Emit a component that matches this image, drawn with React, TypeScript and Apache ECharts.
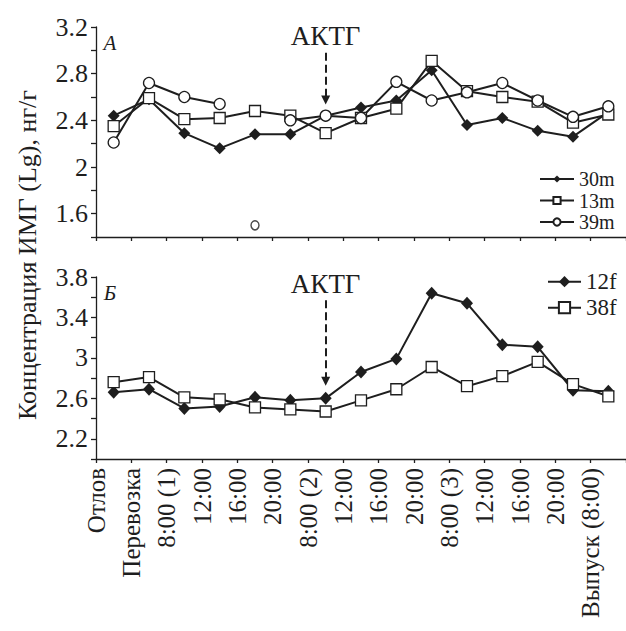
import React, { useEffect, useRef } from 'react';
import * as echarts from 'echarts';

const timeLabels = ['Отлов', 'Перевозка', '8:00 (1)', '12:00', '16:00', '20:00', '8:00 (2)', '12:00', '16:00', '20:00', '8:00 (3)', '12:00', '16:00', '20:00', 'Выпуск (8:00)'];

const series30m = [2.44, 2.58, 2.29, 2.16, 2.28, 2.28, 2.44, 2.51, 2.57, 2.83, 2.36, 2.42, 2.31, 2.26, 2.47];
const series13m = [2.35, 2.59, 2.41, 2.42, 2.48, 2.44, 2.29, 2.42, 2.50, 2.91, 2.65, 2.60, 2.56, 2.38, 2.45];
const series39m = [2.21, 2.72, 2.60, 2.54, null, 2.40, 2.44, 2.42, 2.73, 2.57, 2.64, 2.72, 2.57, 2.43, 2.52];
const outlier39m = [null, null, null, null, 1.5, null, null, null, null, null, null, null, null, null, null];

const series12f = [2.66, 2.69, 2.50, 2.52, 2.61, 2.58, 2.60, 2.86, 2.99, 3.64, 3.54, 3.13, 3.11, 2.68, 2.67];
const series38f = [2.76, 2.81, 2.61, 2.59, 2.51, 2.49, 2.47, 2.58, 2.69, 2.91, 2.72, 2.82, 2.96, 2.74, 2.62];

const topYTicks = ['1.6', '2', '2.4', '2.8', '3.2'];
const bottomYTicks = ['2.2', '2.6', '3', '3.4', '3.8'];

const aktgLabel = 'АКТГ';
const aktgIndex = 6;
const arrowTop = [2.98, 2.575];
const arrowBottom = [3.57, 2.77];

const FONT = '"Liberation Serif", "Times New Roman", serif';
const INK = '#1e1e1e';

function yFormatter(list: string[]) {
  return (v: number) => {
    const s = String(Math.round(v * 10) / 10);
    return list.includes(s) ? s : '';
  };
}

function catAxis(gridIndex: number) {
  return {
    gridIndex,
    type: 'category',
    data: timeLabels,
    boundaryGap: true,
    position: 'bottom',
    axisLine: { show: true, lineStyle: { color: INK, width: 1.3 } },
    axisTick: { show: true, inside: false, length: 4, interval: 0, lineStyle: { color: INK, width: 1.3 } },
    axisLabel: { show: false },
    splitLine: { show: false },
  };
}

function valAxis(gridIndex: number, min: number, max: number, list: string[]) {
  return {
    gridIndex,
    type: 'value',
    min,
    max,
    interval: 0.2,
    axisLine: { show: true, lineStyle: { color: INK, width: 1.3 } },
    axisTick: { show: true, inside: false, length: 5, lineStyle: { color: INK, width: 1.3 } },
    axisLabel: { show: true, margin: 8, fontSize: 26, fontFamily: FONT, color: INK, formatter: yFormatter(list) },
    splitLine: { show: false },
  };
}

function arrowMark(vals: number[]) {
  return {
    silent: true,
    animation: false,
    symbol: ['none', 'triangle'],
    symbolSize: 9,
    lineStyle: { color: INK, width: 2, type: [8, 4] },
    label: { show: true, position: 'start', formatter: aktgLabel, fontSize: 27, fontFamily: FONT, color: INK, distance: 3 },
    emphasis: { disabled: true },
    data: [[{ coord: [aktgIndex, vals[0]] }, { coord: [aktgIndex, vals[1]] }]],
  };
}

const lineBase = {
  type: 'line',
  connectNulls: false,
  lineStyle: { color: INK, width: 2 },
  emphasis: { disabled: true },
};

export default function App() {
  const ref = useRef<HTMLDivElement>(null);
  useEffect(() => {
    if (!ref.current) return;
    const chart = echarts.init(ref.current, null, { renderer: 'svg' });
    chart.setOption({
      animation: false,
      backgroundColor: '#fff',
      grid: [
        { left: 96, top: 27, width: 530, height: 210 },
        { left: 96, top: 277, width: 540, height: 182 },
      ],
      xAxis: [
        catAxis(0),
        catAxis(1),
        {
          gridIndex: 1,
          type: 'category',
          data: [...timeLabels, ''],
          boundaryGap: false,
          position: 'bottom',
          axisLine: { show: false },
          axisTick: { show: false },
          splitLine: { show: false },
          axisLabel: { show: true, rotate: 90, interval: 0, margin: 9, fontSize: 25, fontFamily: FONT, color: INK },
        },
      ],
      yAxis: [valAxis(0, 1.4, 3.2, topYTicks), valAxis(1, 2.0, 3.8, bottomYTicks)],
      legend: [
        {
          data: ['30m', '13m', '39m'],
          orient: 'vertical',
          left: 539,
          top: 169,
          padding: 0,
          itemWidth: 34,
          itemHeight: 9,
          itemGap: 1.5,
          selectedMode: false,
          textStyle: { fontSize: 20, lineHeight: 20, fontFamily: FONT, color: INK },
        },
        {
          data: ['12f', '38f'],
          orient: 'vertical',
          left: 547,
          top: 268.7,
          padding: 0,
          itemWidth: 33,
          itemHeight: 14,
          itemGap: 0,
          selectedMode: false,
          textStyle: { fontSize: 23, lineHeight: 26, fontFamily: FONT, color: INK },
        },
      ],
      series: [
        {
          ...lineBase,
          name: '30m',
          xAxisIndex: 0,
          yAxisIndex: 0,
          data: series30m,
          symbol: 'diamond',
          symbolSize: [12, 12],
          itemStyle: { color: INK },
          markLine: arrowMark(arrowTop),
        },
        {
          ...lineBase,
          name: '13m',
          xAxisIndex: 0,
          yAxisIndex: 0,
          data: series13m,
          symbol: 'rect',
          symbolSize: 11,
          itemStyle: { color: '#fff', borderColor: INK, borderWidth: 1.3 },
        },
        {
          ...lineBase,
          name: '39m',
          xAxisIndex: 0,
          yAxisIndex: 0,
          data: series39m,
          symbol: 'circle',
          symbolSize: 11,
          itemStyle: { color: '#fff', borderColor: INK, borderWidth: 1.3 },
        },
        {
          type: 'scatter',
          name: 'o39m',
          xAxisIndex: 0,
          yAxisIndex: 0,
          data: outlier39m,
          symbol: 'circle',
          symbolSize: [8, 9],
          itemStyle: { color: '#fff', borderColor: INK, borderWidth: 1.5 },
          emphasis: { disabled: true },
        },
        {
          ...lineBase,
          name: '12f',
          xAxisIndex: 1,
          yAxisIndex: 1,
          data: series12f,
          symbol: 'diamond',
          symbolSize: [12, 13],
          itemStyle: { color: INK },
          markLine: arrowMark(arrowBottom),
        },
        {
          ...lineBase,
          name: '38f',
          xAxisIndex: 1,
          yAxisIndex: 1,
          data: series38f,
          symbol: 'rect',
          symbolSize: 11,
          itemStyle: { color: '#fff', borderColor: INK, borderWidth: 1.3 },
        },
      ],
      graphic: [
        {
          type: 'text',
          x: 27,
          y: 255,
          rotation: Math.PI / 2,
          style: { text: 'Концентрация ИМГ (Lg), нг/г', font: '26px ' + FONT, fill: INK, align: 'center', verticalAlign: 'middle' },
        },
        {
          type: 'text',
          x: 110,
          y: 42.5,
          style: { text: 'А', font: 'italic 21px ' + FONT, fill: INK, align: 'center', verticalAlign: 'middle' },
        },
        {
          type: 'text',
          x: 110,
          y: 293,
          style: { text: 'Б', font: 'italic 21px ' + FONT, fill: INK, align: 'center', verticalAlign: 'middle' },
        },
      ],
    });
    return () => chart.dispose();
  }, []);
  return <div ref={ref} style={{ position: 'fixed', left: 0, top: 0, width: 626, height: 631 }} />;
}
